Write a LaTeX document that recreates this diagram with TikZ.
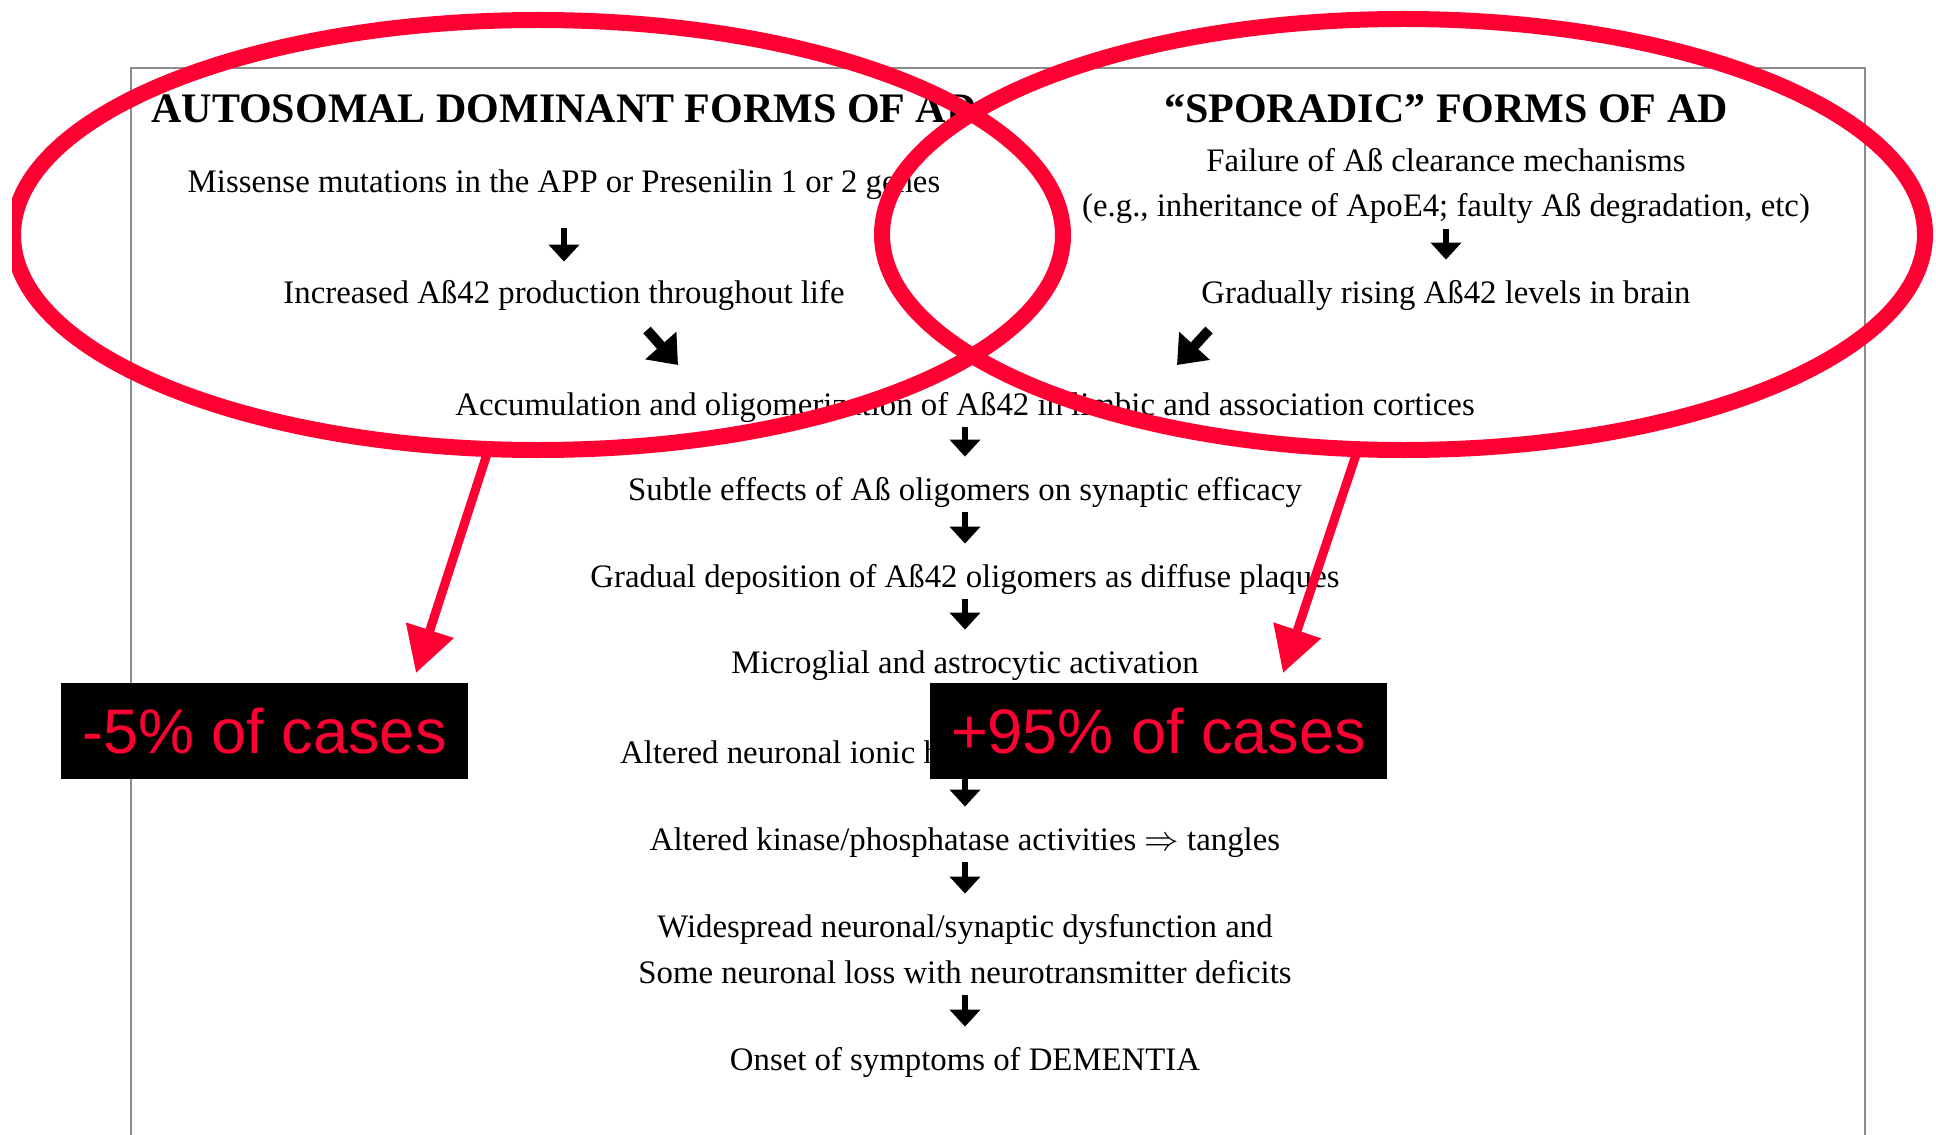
\documentclass[tikz,border=0pt]{standalone}
\usepackage{fontspec}
\setmainfont{Liberation Serif}
\newfontfamily\casefont{Liberation Sans}
\usepackage{tikz}
\usetikzlibrary{arrows.meta, shapes.geometric}
\definecolor{markred}{HTML}{FF0033}
\definecolor{pagegray}{HTML}{8C8C8C}

\begin{document}
\begin{tikzpicture}[x=0.5pt, y=-0.5pt,
    flowtext/.style={font=\fontsize{16.4}{20}\selectfont, anchor=base, inner sep=1pt,
                     text height=12pt, text depth=3.5pt},
    headtext/.style={font=\bfseries\fontsize{21}{25}\selectfont, inner sep=0pt},
    flow/.style={line width=3pt, -{Triangle[length=8.5pt, width=15pt]},
                 shorten <=1.5pt, shorten >=8.5pt},
    slant/.style={line width=5pt, -{Triangle[length=13pt, width=20pt]}},
    ring/.style={ellipse, draw=markred, line width=8pt, inner sep=0pt, outer sep=0pt},
    pointer/.style={draw=markred, line width=4.5pt, -{Triangle[length=22.5pt, width=24pt]}},
    casebox/.style={fill=black, text=markred, font=\casefont\fontsize{31.5}{36}\selectfont,
                    minimum height=48pt, inner xsep=10.5pt, text height=22.5pt, text depth=0pt}]
    \useasboundingbox (0,0) rectangle (1936,1134);
    \draw[pagegray, line width=1pt] (131,68) rectangle (1865,1160);

    % the two starting columns
    \node[headtext, anchor=base west] (ltitle) at (151,123) {AUTOSOMAL DOMINANT FORMS OF AD};
    \node[headtext, anchor=base] (rtitle) at (1446,123) {“SPORADIC” FORMS OF AD};
    \node[flowtext] (mis) at (564,193) {Missense mutations in the APP or Presenilin 1 or 2 genes};
    \node[flowtext] (inc) at (564,303) {Increased Aß42 production throughout life};
    \node[flowtext] (fail) at (1446,172) {Failure of Aß clearance mechanisms};
    \node[flowtext] (eg) at (1446,217) {(e.g., inheritance of ApoE4; faulty Aß degradation, etc)};
    \node[flowtext] (grad) at (1446,303) {Gradually rising Aß42 levels in brain};

    % common cascade
    \node[flowtext] (acc) at (965,415) {Accumulation and oligomerization of Aß42 in limbic and association cortices};
    \node[flowtext] (subtle) at (965,500) {Subtle effects of Aß oligomers on synaptic efficacy};
    \node[flowtext] (depo) at (965,587) {Gradual deposition of Aß42 oligomers as diffuse plaques};
    \node[flowtext] (micro) at (965,673) {Microglial and astrocytic activation};
    \node[flowtext] (ionic) at (965,763) {Altered neuronal ionic homeostasis; oxidative injury};
    \node[flowtext] (kinase) at (965,850) {Altered kinase/phosphatase activities $\Rightarrow$ tangles};
    \node[flowtext] (wide) at (965,937) {Widespread neuronal/synaptic dysfunction and};
    \node[flowtext] (some) at (965,983) {Some neuronal loss with neurotransmitter deficits};
    \node[flowtext] (onset) at (965,1070) {Onset of symptoms of DEMENTIA};

    \draw[flow, shorten <=13pt, shorten >=7.5pt] (mis) -- (inc);
    \draw[flow] (eg) -- (grad);
    \coordinate (ldfrom) at (647,330);
    \coordinate (ldto) at (678,365);
    \coordinate (rdfrom) at (1209,330);
    \coordinate (rdto) at (1177,365);
    \draw[slant] (ldfrom) -- (ldto);
    \draw[slant] (rdfrom) -- (rdto);
    \draw[flow] (acc) -- (subtle);
    \draw[flow] (subtle) -- (depo);
    \draw[flow] (depo) -- (micro);
    \draw[flow] (micro) -- (ionic);
    \draw[flow] (ionic) -- (kinase);
    \draw[flow] (kinase) -- (wide);
    \draw[flow] (some) -- (onset);

    % red marks on top
    \begin{scope}
      \clip (12,0) rectangle (1936,1134);
      \node[ring, minimum width=525pt, minimum height=215pt] (lring) at (538,235) {};
      \node[ring, minimum width=521.5pt, minimum height=215.5pt] (rring) at (1403.5,234.5) {};
    \end{scope}
    \coordinate (lhit) at (416,673);
    \coordinate (rhit) at (1283,673);
    \draw[pointer] (lring.257) -- (lhit);
    \draw[pointer] (rring.258) -- (rhit);

    \node[casebox] (lcases) at (264.5,731) {-5\% of cases};
    \node[casebox] (rcases) at (1158.5,731) {+95\% of cases};
  \end{tikzpicture}
\end{document}
